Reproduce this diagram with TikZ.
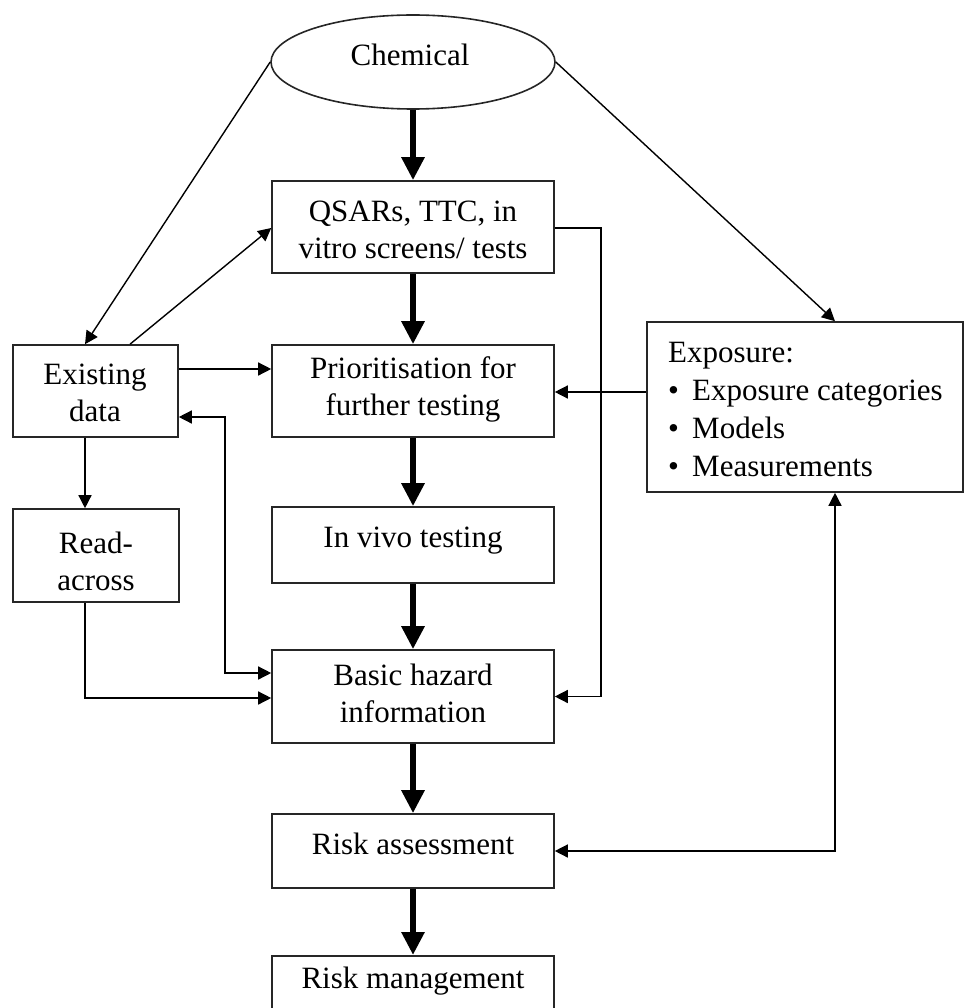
\documentclass[tikz,border=0pt]{standalone}
\usepackage{fontspec}
\setmainfont{Liberation Serif}
\usetikzlibrary{arrows.meta,shapes.geometric}
\begin{document}
\begin{tikzpicture}[x=1pt,y=-1pt,
  box/.style={draw=black!85, line width=1.6pt, rectangle, inner sep=0pt},
  txt/.style={align=center, inner sep=0pt, font=\fontsize{31}{37}\selectfont},
  flow/.style={line width=6.5pt, -{Triangle[length=23pt,width=22pt]}},
  link/.style={line width=1.4pt, -{Triangle[length=13pt,width=13pt]}},
  twoway/.style={line width=1.4pt, {Triangle[length=13pt,width=13pt]}-{Triangle[length=13pt,width=13pt]}},
]
\useasboundingbox (0,0) rectangle (965,1008);
\clip (0,0) rectangle (965,1008);

% boxes
\node[draw=black!85, line width=1.6pt, ellipse, inner sep=0pt,
      minimum width=284pt, minimum height=94pt] (chem) at (413,62) {};
\node[box, minimum width=282pt, minimum height=92pt] (qsar) at (413,227) {};
\node[box, minimum width=165pt, minimum height=92pt] (exist) at (95.5,391) {};
\node[box, minimum width=282pt, minimum height=92pt] (prio) at (413,391) {};
\node[box, minimum width=316pt, minimum height=170pt] (expo) at (805,407) {};
\node[box, minimum width=166pt, minimum height=93pt] (read) at (96,555.5) {};
\node[box, minimum width=282pt, minimum height=76pt] (vivo) at (413,545) {};
\node[box, minimum width=282pt, minimum height=93pt] (haz) at (413,696.5) {};
\node[box, minimum width=282pt, minimum height=74pt] (ra) at (413,851) {};
\node[box, minimum width=282pt, minimum height=80pt, anchor=north] (rm) at (413,955) {};

% texts
\node[txt] (chemT) at (410,55) {Chemical};
\node[txt] (qsarT) at (413,229.5) {QSARs, TTC, in\\vitro screens/ tests};
\node[txt] (existT) at (95,392.5) {Existing\\data};
\node[txt] (prioT) at (413,389.5) {Prioritisation for\\further testing};
\node[txt] (vivoT) at (413,541) {In vivo testing};
\node[txt] (readT) at (96,561.5) {Read-\\across};
\node[txt] (hazT) at (413,693.5) {Basic hazard\\information};
\node[txt] (raT) at (413,844) {Risk assessment};
\node[txt] (rmT) at (413,981) {Risk management};
\node[txt, align=left, anchor=west, font=\fontsize{31}{38.3}\selectfont] (expoT) at (668,409.5)
  {Exposure:\\\makebox[24pt][l]{•}Exposure categories\\\makebox[24pt][l]{•}Models\\\makebox[24pt][l]{•}Measurements};

% main flow
\draw[flow] (chem.south) -- (qsar.north);
\draw[flow] (qsar.south) -- (prio.north);
\draw[flow] (prio.south) -- (vivo.north);
\draw[flow] (vivo.south) -- (haz.north);
\draw[flow] (haz.south) -- (ra.north);
\draw[flow] (ra.south) -- (rm.north);

% side connectors
\draw[link] (chem.west) -- ([xshift=-10.5pt]exist.north);
\draw[link] ([xshift=34.5pt]exist.north) -- ([yshift=-1pt]qsar.west);
\draw[link] (chem.east) -- ([xshift=30pt]expo.north);
\draw[link] ([yshift=22pt]exist.east) -- ([yshift=22pt]prio.west);
\draw[link] ([yshift=15pt]expo.west) -- ([yshift=-1pt]prio.east);
\draw[link] ([xshift=-10.5pt]exist.south) -- ([xshift=-11pt]read.north);
\draw[link] ([xshift=-11pt]read.south) |- ([yshift=-1.5pt]haz.west);
\draw[twoway] ([yshift=-26pt]exist.east) -- ++(46,0) |- ([yshift=23.5pt]haz.west);
\draw[link] ([yshift=-1pt]qsar.east) -- ++(46,0) |- (haz.east);
\draw[twoway] ([xshift=30pt]expo.south) |- (ra.east);
\end{tikzpicture}
\end{document}
